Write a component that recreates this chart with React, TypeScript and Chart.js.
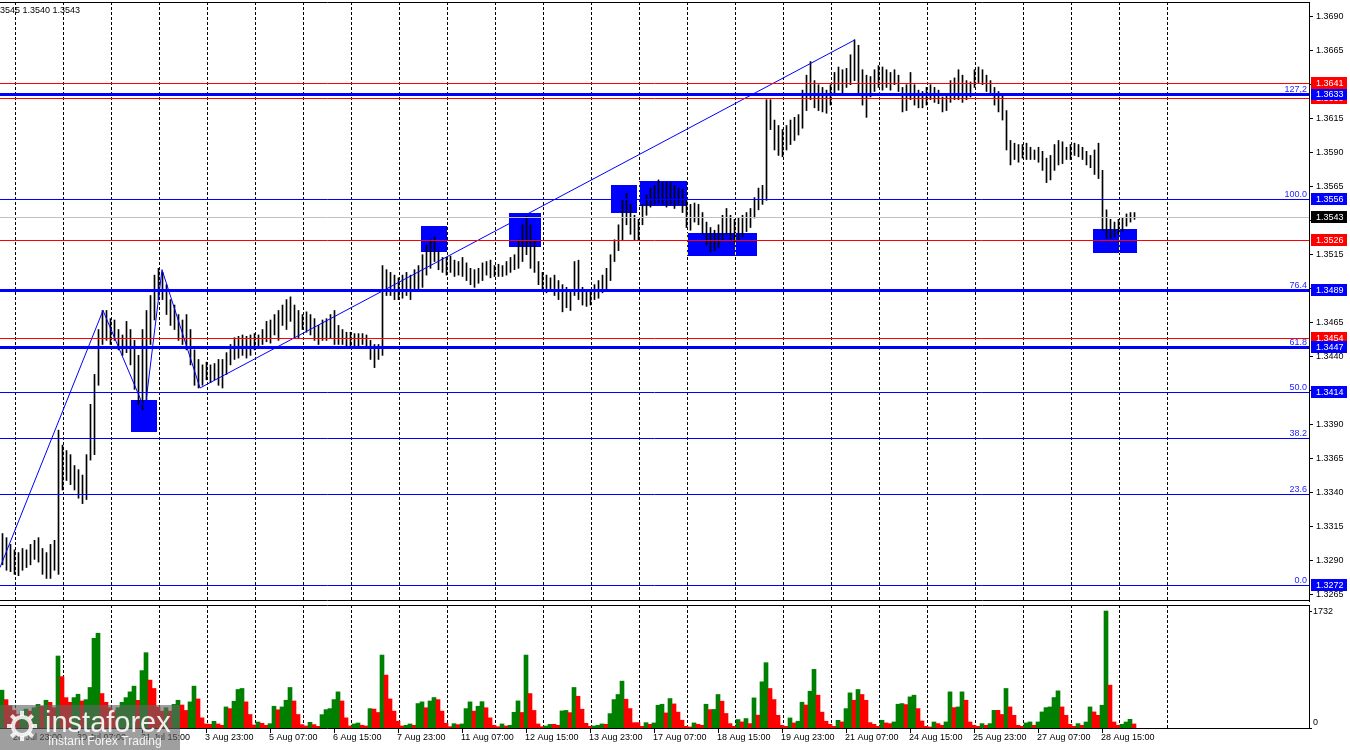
import { useEffect, useRef } from 'react';
import { Chart, registerables } from 'chart.js';

Chart.register(...registerables);

const FONT = '"Liberation Sans", Arial, sans-serif';
const BLUE = '#0000ff';
const RED = '#ff0000';
const GREEN = '#008000';
const FIB_TXT = '#2424ff';
Chart.defaults.font.family = FONT;

// x axis in hourly slots, 2 px each; one drawn bar every 2 slots
const X_MIN = 0;
const X_MAX = 654.5;
const BAR_STEP = 2;
const Y_MIN = 1.32604;
const Y_MAX = 1.37008;
const VOL_MAX = 1821;

const HIGHS = [
  1.3310, 1.3307, 1.3302, 1.3298, 1.3296, 1.3299, 1.3298, 1.3302, 1.3305, 1.3307,
  1.3299, 1.3296, 1.3302, 1.3305, 1.3386, 1.3375, 1.3371, 1.3368, 1.3360, 1.3357,
  1.3353, 1.3368, 1.3405, 1.3427, 1.3460, 1.3474, 1.3474, 1.3468, 1.3467, 1.3460,
  1.3456, 1.3466, 1.3460, 1.3452, 1.3441, 1.3460, 1.3474, 1.3485, 1.3500, 1.3505,
  1.3502, 1.3493, 1.3482, 1.3478, 1.3471, 1.3467, 1.3471, 1.3460, 1.3445, 1.3438,
  1.3434, 1.3436, 1.3434, 1.3435, 1.3438, 1.3438, 1.3443, 1.3449, 1.3454, 1.3455,
  1.3456, 1.3455, 1.3456, 1.3457, 1.3456, 1.3460, 1.3466, 1.3467, 1.3471, 1.3474,
  1.3478, 1.3482, 1.3484, 1.3478, 1.3474, 1.3471, 1.3473, 1.3471, 1.3468, 1.3463,
  1.3467, 1.3468, 1.3471, 1.3474, 1.3463, 1.3460, 1.3458, 1.3458, 1.3457, 1.3457,
  1.3457, 1.3456, 1.3452, 1.3449, 1.3449, 1.3507, 1.3504, 1.3502, 1.3500, 1.3498,
  1.3500, 1.3502, 1.3500, 1.3504, 1.3507, 1.3515, 1.3522, 1.3526, 1.3528, 1.3518,
  1.3513, 1.3513, 1.3514, 1.3511, 1.3510, 1.3513, 1.3509, 1.3505, 1.3504, 1.3505,
  1.3509, 1.3510, 1.3511, 1.3507, 1.3508, 1.3507, 1.3510, 1.3513, 1.3515, 1.3526,
  1.3537, 1.3543, 1.3537, 1.3526, 1.3510, 1.3502, 1.3500, 1.3498, 1.3500, 1.3496,
  1.3493, 1.3491, 1.3489, 1.3510, 1.3511, 1.3491, 1.3489, 1.3488, 1.3493, 1.3496,
  1.3500, 1.3505, 1.3515, 1.3526, 1.3537, 1.3555, 1.3560, 1.3552, 1.3544, 1.3541,
  1.3552, 1.3559, 1.3564, 1.3566, 1.3570, 1.3568, 1.3568, 1.3568, 1.3566, 1.3564,
  1.3563, 1.3555, 1.3552, 1.3553, 1.3552, 1.3546, 1.3539, 1.3535, 1.3533, 1.3537,
  1.3544, 1.3549, 1.3544, 1.3541, 1.3542, 1.3544, 1.3546, 1.3549, 1.3557, 1.3564,
  1.3566, 1.3629, 1.3629, 1.3614, 1.3610, 1.3607, 1.3610, 1.3614, 1.3616, 1.3618,
  1.3636, 1.3647, 1.3657, 1.3643, 1.3640, 1.3638, 1.3636, 1.3640, 1.3649, 1.3653,
  1.3651, 1.3652, 1.3662, 1.3673, 1.3669, 1.3651, 1.3647, 1.3646, 1.3651, 1.3654,
  1.3653, 1.3651, 1.3649, 1.3651, 1.3647, 1.3638, 1.3640, 1.3649, 1.3640, 1.3636,
  1.3635, 1.3638, 1.3640, 1.3638, 1.3636, 1.3631, 1.3632, 1.3643, 1.3645, 1.3651,
  1.3647, 1.3643, 1.3642, 1.3651, 1.3653, 1.3651, 1.3647, 1.3643, 1.3638, 1.3635,
  1.3632, 1.3621, 1.3599, 1.3597, 1.3596, 1.3596, 1.3597, 1.3594, 1.3592, 1.3594,
  1.3591, 1.3586, 1.3588, 1.3596, 1.3599, 1.3598, 1.3594, 1.3596, 1.3597, 1.3596,
  1.3594, 1.3591, 1.3588, 1.3592, 1.3597, 1.3577, 1.3548, 1.3541, 1.3539, 1.3541,
  1.3542, 1.3545, 1.3546, 1.3546,
];

const LOWS = [
  1.3287, 1.3283, 1.3282, 1.3280, 1.3279, 1.3283, 1.3285, 1.3287, 1.3291, 1.3289,
  1.3280, 1.3277, 1.3277, 1.3283, 1.3280, 1.3342, 1.3349, 1.3346, 1.3342, 1.3336,
  1.3332, 1.3335, 1.3364, 1.3368, 1.3419, 1.3449, 1.3452, 1.3449, 1.3452, 1.3445,
  1.3441, 1.3443, 1.3434, 1.3416, 1.3405, 1.3401, 1.3408, 1.3449, 1.3467, 1.3482,
  1.3482, 1.3471, 1.3463, 1.3460, 1.3452, 1.3449, 1.3445, 1.3434, 1.3419, 1.3417,
  1.3419, 1.3423, 1.3421, 1.3423, 1.3419, 1.3417, 1.3427, 1.3434, 1.3438, 1.3439,
  1.3441, 1.3439, 1.3441, 1.3445, 1.3446, 1.3449, 1.3451, 1.3450, 1.3456, 1.3452,
  1.3463, 1.3460, 1.3466, 1.3454, 1.3454, 1.3460, 1.3458, 1.3456, 1.3452, 1.3449,
  1.3452, 1.3452, 1.3454, 1.3449, 1.3449, 1.3449, 1.3446, 1.3447, 1.3446, 1.3447,
  1.3449, 1.3446, 1.3438, 1.3432, 1.3438, 1.3441, 1.3485, 1.3485, 1.3482, 1.3482,
  1.3483, 1.3485, 1.3482, 1.3488, 1.3489, 1.3491, 1.3500, 1.3505, 1.3510, 1.3504,
  1.3502, 1.3500, 1.3502, 1.3499, 1.3500, 1.3499, 1.3496, 1.3493, 1.3491, 1.3494,
  1.3496, 1.3500, 1.3498, 1.3499, 1.3499, 1.3499, 1.3500, 1.3502, 1.3504, 1.3505,
  1.3510, 1.3515, 1.3505, 1.3502, 1.3493, 1.3489, 1.3487, 1.3488, 1.3485, 1.3482,
  1.3473, 1.3476, 1.3474, 1.3485, 1.3482, 1.3478, 1.3477, 1.3478, 1.3482, 1.3483,
  1.3487, 1.3489, 1.3496, 1.3510, 1.3518, 1.3526, 1.3537, 1.3530, 1.3526, 1.3526,
  1.3537, 1.3544, 1.3550, 1.3552, 1.3553, 1.3552, 1.3550, 1.3552, 1.3549, 1.3552,
  1.3546, 1.3535, 1.3533, 1.3539, 1.3537, 1.3530, 1.3522, 1.3517, 1.3518, 1.3520,
  1.3526, 1.3530, 1.3526, 1.3524, 1.3526, 1.3528, 1.3532, 1.3535, 1.3542, 1.3548,
  1.3552, 1.3555, 1.3607, 1.3592, 1.3588, 1.3587, 1.3592, 1.3596, 1.3599, 1.3603,
  1.3608, 1.3621, 1.3629, 1.3623, 1.3621, 1.3620, 1.3619, 1.3625, 1.3632, 1.3636,
  1.3634, 1.3638, 1.3640, 1.3643, 1.3634, 1.3625, 1.3616, 1.3631, 1.3635, 1.3638,
  1.3636, 1.3638, 1.3636, 1.3640, 1.3635, 1.3620, 1.3621, 1.3629, 1.3625, 1.3623,
  1.3623, 1.3625, 1.3629, 1.3627, 1.3626, 1.3620, 1.3621, 1.3627, 1.3629, 1.3629,
  1.3627, 1.3629, 1.3631, 1.3638, 1.3641, 1.3640, 1.3635, 1.3632, 1.3625, 1.3620,
  1.3614, 1.3592, 1.3581, 1.3585, 1.3583, 1.3586, 1.3585, 1.3585, 1.3585, 1.3583,
  1.3577, 1.3568, 1.3570, 1.3577, 1.3581, 1.3582, 1.3585, 1.3585, 1.3588, 1.3587,
  1.3585, 1.3581, 1.3579, 1.3574, 1.3571, 1.3533, 1.3527, 1.3527, 1.3528, 1.3530,
  1.3532, 1.3536, 1.3539, 1.3541,
];

const VOLUMES = [
  560, 420, 330, 260, 200, 240, 280, 250, 300, 350,
  320, 411, 380, 300, 1066, 760, 450, 380, 450, 500,
  400, 420, 600, 1328, 1403, 510, 380, 300, 260, 300,
  380, 450, 535, 620, 410, 850, 1115, 709, 585, 310,
  250, 300, 250, 350, 411, 340, 260, 387, 620, 430,
  150, 60, 55, 99, 60, 40, 312, 287, 396, 570,
  585, 387, 200, 45, 89, 70, 40, 64, 322, 270,
  312, 411, 600, 400, 200, 50, 30, 84, 50, 25,
  198, 272, 287, 421, 535, 400, 150, 30, 60, 74,
  40, 30, 287, 280, 230, 1080, 783, 430, 250, 100,
  30, 40, 60, 40, 362, 387, 300, 400, 451, 420,
  250, 70, 20, 64, 50, 60, 287, 387, 250, 322,
  390, 300, 150, 40, 20, 60, 30, 40, 233, 401,
  230, 1080, 510, 260, 60, 20, 30, 55, 55, 40,
  253, 260, 228, 600, 470, 278, 70, 25, 30, 40,
  60, 55, 213, 421, 496, 694, 426, 288, 79, 79,
  25, 79, 55, 75, 337, 352, 223, 436, 357, 235,
  115, 25, 15, 75, 55, 40, 352, 272, 275, 496,
  397, 215, 65, 25, 125, 90, 140, 65, 446, 190,
  684, 967, 585, 421, 188, 40, 25, 149, 75, 100,
  382, 340, 545, 868, 486, 235, 100, 55, 25, 114,
  90, 287, 520, 411, 570, 496, 410, 80, 55, 25,
  115, 75, 65, 90, 352, 362, 347, 461, 486, 287,
  104, 25, 15, 89, 65, 40, 90, 535, 302, 312,
  535, 411, 89, 40, 25, 65, 40, 65, 262, 262,
  200, 585, 312, 188, 40, 25, 75, 90, 40, 90,
  238, 302, 312, 451, 550, 312, 188, 55, 25, 65,
  40, 89, 312, 238, 188, 337, 1732, 634, 89, 40,
  55, 89, 129, 60,
];

const PRICE_TICKS = [
  1.3265, 1.3290, 1.3315, 1.3340, 1.3365, 1.3390, 1.3415, 1.3440, 1.3465,
  1.3490, 1.3515, 1.3540, 1.3565, 1.3590, 1.3615, 1.3640, 1.3665, 1.3690,
];
const VOL_TICKS = [0, 1732];

const TIME_LABELS = [
  '28 Jul 23:00', '30 Jul 07:00', '31 Jul 15:00', '3 Aug 23:00', '5 Aug 07:00', '6 Aug 15:00',
  '7 Aug 23:00', '11 Aug 07:00', '12 Aug 15:00', '13 Aug 23:00', '17 Aug 07:00', '18 Aug 15:00',
  '19 Aug 23:00', '21 Aug 07:00', '24 Aug 15:00', '25 Aug 23:00', '27 Aug 07:00', '28 Aug 15:00',
];
const TIME_BARS = [7, 39, 71, 103, 135, 167, 199, 231, 263, 295, 327, 359, 391, 423, 455, 487, 519, 551];
const GRID_BARS = Array.from({ length: 25 }, (_, k) => 7.65 + 24 * k);

// fibonacci grid
const FIB_LABELS = ['0.0', '23.6', '38.2', '50.0', '61.8', '76.4', '100.0', '127,2'];
const FIB_PRICES = [1.3272, 1.3339, 1.3380, 1.3414, 1.3447, 1.3489, 1.3556, 1.3633];
const FIB_WIDTHS = [1, 1, 1, 1, 3, 3, 1, 3];
const RED_LEVELS = [1.3641, 1.3630, 1.3526, 1.3454];
const LAST_PRICE = 1.3543;

// right-axis price tags, drawn in this order
const TAG_PRICES = [1.3630, 1.3633, 1.3641, 1.3556, 1.3526, 1.3543, 1.3489, 1.3454, 1.3447, 1.3414, 1.3272];
const TAG_COLORS = [RED, BLUE, RED, BLUE, RED, '#000', BLUE, RED, BLUE, BLUE, BLUE];

// blue zones: [fromBar, toBar, topPrice, bottomPrice]
const BOXES = [
  [65.5, 78.5, 1.3408, 1.3385],
  [210.5, 223.5, 1.3536, 1.3517],
  [254.5, 270.5, 1.3546, 1.3521],
  [305.5, 318.5, 1.3566, 1.3546],
  [319.5, 343.5, 1.3569, 1.3551],
  [343.5, 378.5, 1.3531, 1.3514],
  [546.5, 568.5, 1.3534, 1.3516],
];

const ZZ_BARS = [0, 51.5, 72.5, 81, 100, 427.5];
const ZZ_PRICES = [1.3285, 1.3474, 1.3401, 1.3504, 1.3417, 1.3673];

const whiteBg = {
  id: 'whiteBg',
  beforeDraw(chart: any) {
    const { ctx } = chart;
    ctx.save();
    ctx.fillStyle = '#fff';
    ctx.fillRect(0, 0, chart.width, chart.height);
    ctx.restore();
  },
};

function drawVGrid(ctx: CanvasRenderingContext2D, x: any, top: number, bottom: number) {
  ctx.save();
  ctx.globalCompositeOperation = 'difference';
  ctx.strokeStyle = '#fff';
  ctx.lineWidth = 1;
  ctx.setLineDash([3, 2]);
  GRID_BARS.forEach((b) => {
    const px = Math.round(x.getPixelForValue(b)) + 0.5;
    ctx.beginPath();
    ctx.moveTo(px, top);
    ctx.lineTo(px, bottom);
    ctx.stroke();
  });
  ctx.restore();
}

const mainOverlay = {
  id: 'mainOverlay',
  beforeDatasetsDraw(chart: any) {
    const { ctx, chartArea: a, scales: { x, y } } = chart;
    ctx.save();
    ctx.beginPath();
    ctx.rect(a.left, a.top, a.right - a.left, a.bottom - a.top);
    ctx.clip();
    ctx.fillStyle = BLUE;
    BOXES.forEach(([b0, b1, p0, p1]) => {
      const x0 = Math.round(x.getPixelForValue(b0));
      const x1 = Math.round(x.getPixelForValue(b1));
      const y0 = Math.round(y.getPixelForValue(p0));
      const y1 = Math.round(y.getPixelForValue(p1));
      ctx.fillRect(x0, y0, x1 - x0, y1 - y0);
    });
    drawVGrid(ctx, x, a.top, a.bottom);
    ctx.restore();
  },
  afterDatasetsDraw(chart: any) {
    const { ctx, chartArea: a, scales: { y } } = chart;
    const level = (p: number, color: string, w: number) => {
      const py = Math.round(y.getPixelForValue(p)) + (w % 2 ? 0.5 : 0);
      ctx.strokeStyle = color;
      ctx.lineWidth = w;
      ctx.beginPath();
      ctx.moveTo(a.left, py);
      ctx.lineTo(a.right, py);
      ctx.stroke();
    };
    ctx.save();
    level(LAST_PRICE, '#c0c0c0', 1);
    FIB_PRICES.forEach((p, i) => level(p, BLUE, FIB_WIDTHS[i]));
    RED_LEVELS.forEach((p) => level(p, RED, 1));
    ctx.restore();
  },
  afterDraw(chart: any) {
    const { ctx, chartArea: a, scales: { y } } = chart;
    ctx.save();
    ctx.strokeStyle = '#000';
    ctx.lineWidth = 1;
    ctx.beginPath();
    ctx.moveTo(0, a.top + 0.5);
    ctx.lineTo(a.right + 1, a.top + 0.5);
    ctx.moveTo(0, a.bottom - 0.5);
    ctx.lineTo(a.right + 1, a.bottom - 0.5);
    ctx.stroke();

    ctx.font = `9px ${FONT}`;
    ctx.fillStyle = FIB_TXT;
    ctx.textAlign = 'right';
    ctx.textBaseline = 'alphabetic';
    FIB_PRICES.forEach((p, i) => {
      ctx.fillText(FIB_LABELS[i], a.right - 2, Math.round(y.getPixelForValue(p)) - 2);
    });

    ctx.fillStyle = '#000';
    ctx.textAlign = 'left';
    ctx.textBaseline = 'middle';
    ctx.fillText('1.3545 1.3540 1.3543', -7.5, a.top + 9);

    TAG_PRICES.forEach((p, i) => {
      const py = Math.round(y.getPixelForValue(p));
      ctx.fillStyle = TAG_COLORS[i];
      ctx.fillRect(a.right + 2, py - 6, 36, 12);
      ctx.fillStyle = '#fff';
      ctx.fillText(p.toFixed(4), a.right + 7, py + 0.5);
    });
    ctx.restore();
  },
};

function drawWatermark(ctx: CanvasRenderingContext2D, top: number) {
  ctx.save();
  ctx.fillStyle = 'rgba(100,100,100,0.62)';
  ctx.fillRect(0, top, 180, 45);
  ctx.strokeStyle = 'rgba(255,255,255,0.85)';
  ctx.lineWidth = 4;
  const cx = 22, cy = top + 21;
  ctx.beginPath();
  ctx.arc(cx, cy, 9, 0, Math.PI * 2);
  ctx.stroke();
  for (let k = 0; k < 8; k++) {
    const t = (k * Math.PI) / 4;
    ctx.beginPath();
    ctx.moveTo(cx + Math.cos(t) * 10, cy + Math.sin(t) * 10);
    ctx.lineTo(cx + Math.cos(t) * 15, cy + Math.sin(t) * 15);
    ctx.stroke();
  }
  ctx.fillStyle = 'rgba(255,255,255,0.9)';
  ctx.textAlign = 'left';
  ctx.textBaseline = 'alphabetic';
  ctx.font = `29px ${FONT}`;
  ctx.fillText('instaforex', 45, top + 27);
  ctx.font = `12px ${FONT}`;
  ctx.fillText('Instant Forex Trading', 48, top + 40);
  ctx.restore();
}

const volOverlay = {
  id: 'volOverlay',
  beforeDatasetsDraw(chart: any) {
    const { ctx, chartArea: a, scales: { x } } = chart;
    drawVGrid(ctx, x, a.top, a.bottom);
  },
  afterDraw(chart: any) {
    const { ctx, chartArea: a, scales: { x, y } } = chart;
    ctx.save();
    ctx.strokeStyle = '#000';
    ctx.lineWidth = 1;
    ctx.beginPath();
    ctx.moveTo(0, a.top + 0.5);
    ctx.lineTo(a.right + 1, a.top + 0.5);
    ctx.moveTo(a.right + 0.5, a.top);
    ctx.lineTo(a.right + 0.5, a.bottom + 1);
    ctx.moveTo(0, a.bottom + 0.5);
    ctx.lineTo(a.right + 1, a.bottom + 0.5);
    TIME_BARS.forEach((b) => {
      const px = Math.round(x.getPixelForValue(b)) + 0.5;
      ctx.moveTo(px, a.bottom + 1);
      ctx.lineTo(px, a.bottom + 5);
    });
    VOL_TICKS.forEach((v) => {
      const py = Math.round(y.getPixelForValue(v)) + 0.5;
      ctx.moveTo(a.right + 1, py);
      ctx.lineTo(a.right + 3, py);
    });
    ctx.stroke();

    ctx.font = `9px ${FONT}`;
    ctx.fillStyle = '#000';
    ctx.textAlign = 'left';
    ctx.textBaseline = 'middle';
    TIME_BARS.forEach((b, i) => {
      ctx.fillText(TIME_LABELS[i], Math.round(x.getPixelForValue(b)) - 1, a.bottom + 10);
    });
    VOL_TICKS.forEach((v) => {
      const py = v === 0 ? y.getPixelForValue(v) - 5 : y.getPixelForValue(v) + 1;
      ctx.fillText(String(v), a.right + 4, py);
    });
    ctx.restore();
    drawWatermark(ctx, a.bottom - 23);
  },
};

export default function App() {
  const mainRef = useRef<HTMLCanvasElement>(null);
  const volRef = useRef<HTMLCanvasElement>(null);

  useEffect(() => {
    if (!mainRef.current || !volRef.current) return;
    // +0.25 slot puts each 1px bar on a whole pixel column
    const priceBars = HIGHS.map((h, i) => ({ x: 1.25 + BAR_STEP * i, y: [LOWS[i], h] }));
    const volBars = VOLUMES.map((v, i) => ({ x: 1 + BAR_STEP * i, y: v }));
    const volColors = VOLUMES.map((v, i) => (i === 0 || v > VOLUMES[i - 1] ? GREEN : RED));

    const main = new Chart(mainRef.current, {
      type: 'bar',
      data: {
        datasets: [
          {
            type: 'line',
            data: ZZ_BARS.map((b, i) => ({ x: b, y: ZZ_PRICES[i] })),
            borderColor: BLUE, borderWidth: 1, pointRadius: 0, tension: 0, fill: false, order: 0,
          } as any,
          {
            type: 'bar',
            data: priceBars,
            backgroundColor: '#000', barThickness: 1, order: 3,
          } as any,
        ],
      },
      options: {
        animation: false, responsive: true, maintainAspectRatio: false, events: [],
        layout: { padding: { top: 2, bottom: 2, left: 0, right: 0 } },
        plugins: { legend: { display: false }, tooltip: { enabled: false } },
        scales: {
          x: { type: 'linear', min: X_MIN, max: X_MAX, offset: false, display: false },
          y: {
            type: 'linear', position: 'right', min: Y_MIN, max: Y_MAX,
            afterBuildTicks: (s: any) => { s.ticks = PRICE_TICKS.map((value) => ({ value })); },
            afterFit: (s: any) => { s.width = 41; s.paddingTop = 0; s.paddingBottom = 0; },
            grid: { drawOnChartArea: false, drawTicks: true, tickLength: 4, color: '#000' },
            border: { display: true, color: '#000', width: 1 },
            ticks: {
              autoSkip: false, color: '#000', padding: 3,
              font: { family: FONT, size: 9 },
              callback: (v: any) => Number(v).toFixed(4),
            },
          },
        },
      },
      plugins: [whiteBg, mainOverlay],
    });

    const vol = new Chart(volRef.current, {
      type: 'bar',
      data: {
        datasets: [{ data: volBars, backgroundColor: volColors, barThickness: 4 } as any],
      },
      options: {
        animation: false, responsive: true, maintainAspectRatio: false, events: [],
        layout: { padding: { top: 2, bottom: 22, left: 0, right: 41 } },
        plugins: { legend: { display: false }, tooltip: { enabled: false } },
        scales: {
          x: { type: 'linear', min: X_MIN, max: X_MAX, offset: false, display: false },
          y: { type: 'linear', min: 0, max: VOL_MAX, display: false },
        },
      },
      plugins: [whiteBg, volOverlay],
    });

    return () => { main.destroy(); vol.destroy(); };
  }, []);

  return (
    <div style={{ position: 'fixed', left: 0, top: 0, width: 1350, height: 750, background: '#fff', overflow: 'hidden' }}>
      <div style={{ position: 'absolute', left: 0, top: 0, width: 1350, height: 603 }}>
        <canvas ref={mainRef} />
      </div>
      <div style={{ position: 'absolute', left: 0, top: 603, width: 1350, height: 147 }}>
        <canvas ref={volRef} />
      </div>
    </div>
  );
}
